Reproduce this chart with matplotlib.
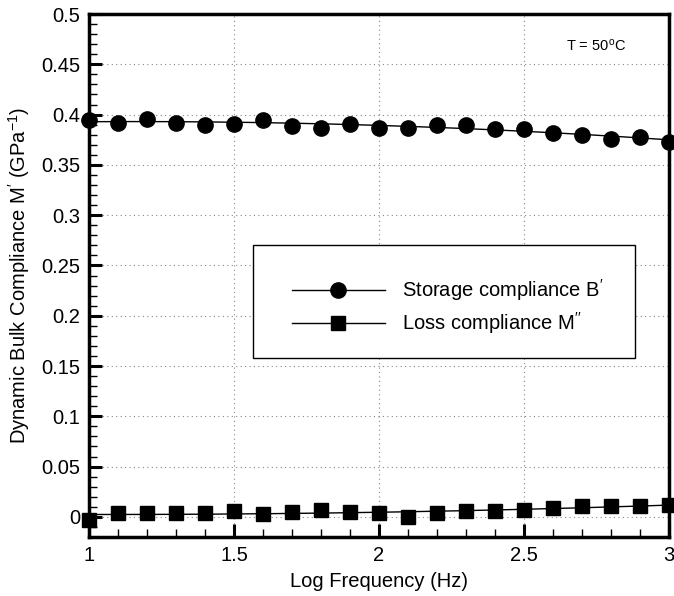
import numpy as np
import matplotlib
matplotlib.use('Agg')
from matplotlib import pyplot as plt
from matplotlib.patches import Rectangle
from matplotlib.ticker import MultipleLocator

plt.rcParams['font.family'] = ['Liberation Sans', 'DejaVu Sans']
plt.rcParams['mathtext.fontset'] = 'custom'
plt.rcParams['mathtext.rm'] = 'Liberation Sans'
plt.rcParams['mathtext.it'] = 'Liberation Sans'

# log frequency and measured compliances at T = 50C
log_freq = [1.0, 1.1, 1.2, 1.3, 1.4, 1.5, 1.6, 1.7, 1.8, 1.9, 2.0,
            2.1, 2.2, 2.3, 2.4, 2.5, 2.6, 2.7, 2.8, 2.9, 3.0]
storage = [0.395, 0.392, 0.396, 0.392, 0.390, 0.391, 0.395, 0.389, 0.387, 0.391, 0.387,
           0.387, 0.390, 0.390, 0.386, 0.386, 0.382, 0.380, 0.376, 0.378, 0.373]
loss = [-0.003, 0.004, 0.004, 0.0035, 0.0035, 0.0055, 0.003, 0.0045, 0.007, 0.0045, 0.0035,
        0.0, 0.004, 0.006, 0.0055, 0.0065, 0.009, 0.011, 0.0105, 0.011, 0.012]

FS = 14.5

x = np.array(log_freq)
xs = np.linspace(x.min(), x.max(), 200)
# smooth trend lines through the points
fit_s = np.polyval(np.polyfit(x, storage, 2), xs)
fit_l = np.polyval(np.polyfit(x, loss, 2), xs)

fig = plt.figure(figsize=(6.74, 5.96), dpi=100)
ax = fig.add_axes([0.132, 0.099, 0.8606, 0.8775])

ax.plot(xs, fit_s, color='black', lw=1.0)
ax.plot(xs, fit_l, color='black', lw=1.0)
ax.plot(x, storage, 'o', color='black', ms=11, clip_on=False, zorder=5)
ax.plot(x, loss, 's', color='black', ms=10, clip_on=False, zorder=5)

ax.set_xlim(1, 3)
ax.set_ylim(-0.02, 0.5)
ax.xaxis.set_major_locator(MultipleLocator(0.5))
ax.xaxis.set_minor_locator(MultipleLocator(0.1))
ax.yaxis.set_major_locator(MultipleLocator(0.05))
ax.yaxis.set_minor_locator(MultipleLocator(0.01))
ax.xaxis.set_major_formatter(plt.FuncFormatter(lambda v, p: '%g' % v))
ax.yaxis.set_major_formatter(plt.FuncFormatter(lambda v, p: '%g' % round(v, 2)))

ax.tick_params(which='both', direction='in', top=False, right=False, labelsize=FS, colors='black')
ax.tick_params(which='major', length=9.5, width=2.2, pad=6.5)
ax.tick_params(which='minor', length=5.5, width=1.0)
for s in ax.spines.values():
    s.set_linewidth(2.5)

ax.grid(True, which='major', linestyle=(0, (1, 3)), color='#888888', lw=0.8)
ax.set_axisbelow(True)

ax.set_xlabel('Log Frequency (Hz)', fontsize=FS, labelpad=5)
ax.set_ylabel(r"Dynamic Bulk Compliance M$^{\prime}$ (GPa$^{-1}$)", fontsize=FS, labelpad=6)

ax.text(2.75, 0.469, r'T = 50$^{\rm o}$C', fontsize=10.5, ha='center', va='center')

# framed key box
ax.add_patch(Rectangle((0.283, 0.342), 0.658, 0.216, transform=ax.transAxes,
                       facecolor='white', edgecolor='black', lw=1.0, zorder=6))
h1, = ax.plot([], [], '-o', color='black', ms=11, lw=1.0)
h2, = ax.plot([], [], '-s', color='black', ms=10, lw=1.0)
leg = ax.legend([h1, h2], [r"Storage compliance B$^{\prime}$", r"Loss compliance M$^{\prime\prime}$"],
                loc='center left', bbox_to_anchor=(0.35, 0.44), frameon=False, fontsize=FS,
                borderpad=0, borderaxespad=0,
                handlelength=4.6, handletextpad=0.85, labelspacing=0.35)
leg.set_zorder(7)

fig.savefig('out.png', dpi=100)
